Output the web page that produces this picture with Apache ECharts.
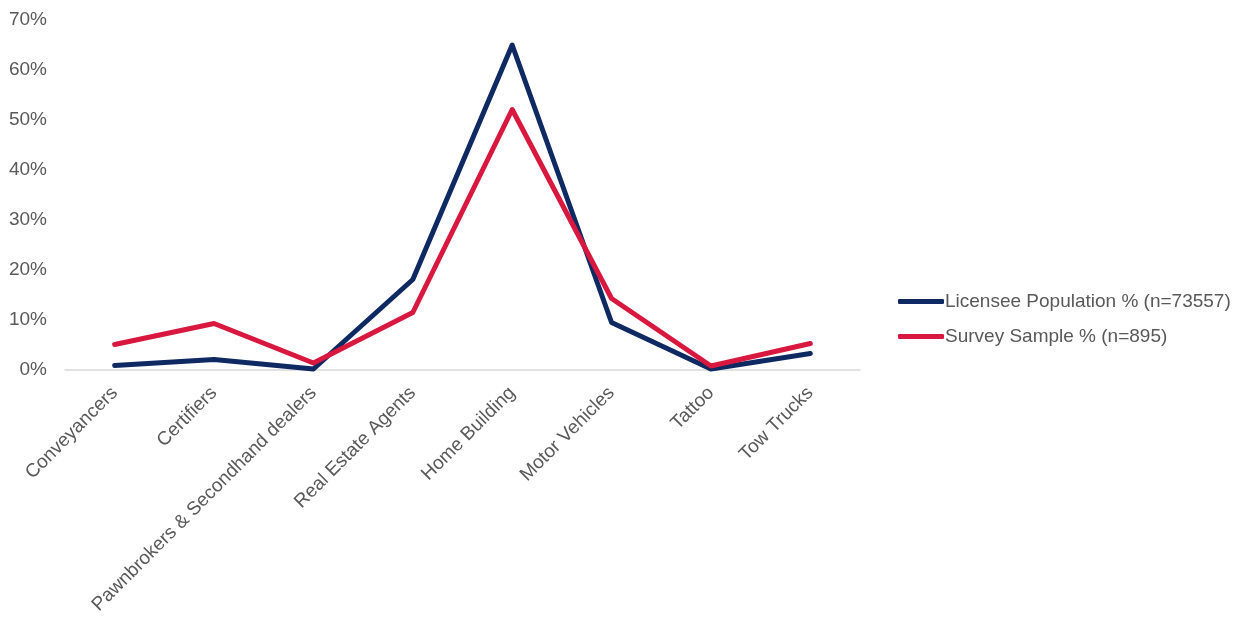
<!DOCTYPE html>
<html>
<head>
<meta charset="utf-8">
<script src="https://cdn.jsdelivr.net/npm/echarts@6/dist/echarts.min.js"></script>
<style>
html,body{margin:0;padding:0;background:#fff;}
#main{width:1246px;height:624px;}
</style>
</head>
<body>
<div id="main"></div>
<script>
const categories = ['Conveyancers','Certifiers','Pawnbrokers & Secondhand dealers','Real Estate Agents','Home Building','Motor Vehicles','Tattoo','Tow Trucks'];
const licenseeName = 'Licensee Population % (n=73557)';
const surveyName = 'Survey Sample % (n=895)';
const licenseeValues = [0.9, 2.1, 0.2, 18.1, 65.0, 9.5, 0.2, 3.3];
const surveyValues = [5.1, 9.3, 1.4, 11.5, 52.1, 14.3, 0.8, 5.3];
const yTicks = [0, 10, 20, 30, 40, 50, 60, 70];

const chart = echarts.init(document.getElementById('main'));
const font = 'Liberation Sans, Arial, sans-serif';
chart.setOption({
  animation: false,
  backgroundColor: '#ffffff',
  grid: {left: 65, right: 386, top: 20, bottom: 254, containLabel: false},
  legend: {
    orient: 'vertical',
    left: 893,
    top: 287,
    itemWidth: 46,
    itemHeight: 5,
    itemGap: 16,
    icon: 'roundRect',
    textStyle: {fontFamily: font, fontSize: 19, color: '#595959', padding: [0,0,0,-4]},
    data: [licenseeName, surveyName]
  },
  xAxis: {
    type: 'category',
    data: categories,
    boundaryGap: true,
    axisLine: {show: true, lineStyle: {color: '#d9d9d9', width: 1.5}},
    axisTick: {show: false},
    axisLabel: {
      interval: 0,
      rotate: 45,
      margin: 20,
      fontFamily: font,
      fontSize: 19,
      color: '#595959'
    }
  },
  yAxis: {
    type: 'value',
    min: yTicks[0],
    max: yTicks[yTicks.length - 1],
    interval: 10,
    axisLine: {show: false},
    axisTick: {show: false},
    splitLine: {show: false},
    axisLabel: {
      formatter: v => v + '%',
      margin: 18,
      fontFamily: font,
      fontSize: 19,
      color: '#595959'
    }
  },
  series: [
    {
      name: licenseeName,
      type: 'line',
      data: licenseeValues,
      symbol: 'none',
      lineStyle: {color: '#0f2a63', width: 5, join: 'round', cap: 'round'},
      itemStyle: {color: '#0f2a63'}
    },
    {
      name: surveyName,
      type: 'line',
      data: surveyValues,
      symbol: 'none',
      lineStyle: {color: '#d8183f', width: 5, join: 'round', cap: 'round'},
      itemStyle: {color: '#d8183f'}
    }
  ]
});
</script>
</body>
</html>
